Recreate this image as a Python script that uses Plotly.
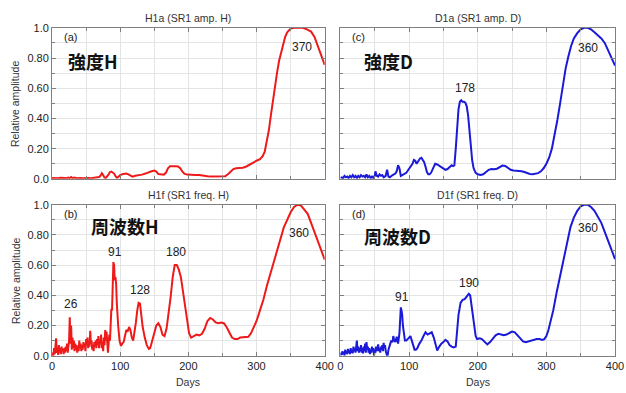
import plotly.graph_objects as go

# ---------------- data (day, relative amplitude) ----------------
h1a = [(0,0.005),(3,0.003),(6,0.006),(9,0.004),(12,0.007),(15,0.004),(18,0.006),(21,0.004),(24,0.009),(26,0.004),
       (28,0.012),(30,0.005),(33,0.008),(36,0.004),(39,0.007),(42,0.005),(45,0.004),(48,0.006),(51,0.004),(54,0.005),
       (57,0.004),(60,0.006),(63,0.005),(66,0.008),(69,0.012),(71,0.02),(73,0.038),(75,0.025),(77,0.008),(79,0.006),
       (81,0.015),(83,0.03),(85,0.045),(87,0.048),(89,0.042),(91,0.035),(93,0.02),(95,0.008),(97,0.012),(100,0.025),
       (103,0.03),(106,0.035),(109,0.036),(112,0.03),(115,0.02),(118,0.015),(122,0.02),(127,0.023),(132,0.028),(137,0.035),
       (142,0.045),(146,0.05),(150,0.055),(153,0.048),(156,0.032),(160,0.03),(164,0.028),(167,0.04),(170,0.07),(173,0.083),
       (177,0.085),(181,0.083),(185,0.082),(188,0.07),(191,0.05),(194,0.035),(198,0.028),(204,0.025),(210,0.026),(216,0.025),
       (222,0.024),(228,0.018),(234,0.016),(240,0.017),(246,0.018),(250,0.015),(254,0.018),(258,0.03),(262,0.05),(266,0.065),
       (270,0.07),(275,0.072),(280,0.074),(285,0.082),(290,0.095),(295,0.11),(300,0.12),(305,0.13),(309,0.15),(312,0.18),
       (315,0.25),(318,0.32),(321,0.42),(324,0.52),(327,0.6),(330,0.7),(333,0.78),(336,0.84),(339,0.9),(342,0.94),
       (345,0.97),(350,0.995),(355,1.0),(362,1.0),(368,1.0),(374,0.99),(380,0.975),(385,0.94),(390,0.88),(395,0.82),(400,0.755)]

d1a = [(0,0.005),(2,0.01),(4,0.005),(6,0.02),(8,0.01),(10,0.015),(12,0.005),(14,0.02),(16,0.01),(18,0.025),
       (20,0.01),(22,0.02),(24,0.005),(26,0.02),(28,0.01),(30,0.025),(32,0.015),(34,0.02),(36,0.01),(38,0.03),
       (40,0.01),(42,0.02),(44,0.005),(46,0.015),(48,0.005),(50,0.02),(51,0.05),(53,0.02),(55,0.015),(57,0.03),
       (59,0.02),(61,0.025),(63,0.01),(66,0.02),(68,0.06),(70,0.015),(72,0.01),(74,0.02),(76,0.025),(78,0.03),
       (80,0.035),(82,0.05),(84,0.09),(86,0.07),(88,0.02),(90,0.025),(93,0.03),(96,0.04),(99,0.06),(102,0.08),
       (105,0.1),(107,0.125),(109,0.12),(111,0.1),(113,0.115),(116,0.135),(118,0.14),(120,0.125),(122,0.11),(124,0.08),
       (126,0.045),(128,0.03),(130,0.03),(132,0.04),(135,0.07),(138,0.1),(141,0.095),(144,0.085),(147,0.075),(150,0.065),
       (153,0.06),(156,0.065),(159,0.08),(162,0.09),(164,0.085),(166,0.09),(168,0.2),(170,0.35),(172,0.46),(174,0.51),
       (176,0.52),(178,0.51),(180,0.51),(182,0.505),(184,0.48),(186,0.42),(188,0.32),(190,0.2),(192,0.12),(194,0.07),
       (197,0.04),(200,0.03),(204,0.025),(208,0.03),(212,0.045),(216,0.06),(220,0.065),(224,0.063),(228,0.067),(232,0.078),
       (236,0.088),(240,0.085),(244,0.07),(248,0.06),(252,0.055),(256,0.055),(260,0.055),(264,0.05),(268,0.045),(272,0.038),
       (276,0.032),(280,0.03),(284,0.032),(288,0.038),(292,0.05),(296,0.07),(300,0.1),(304,0.14),(308,0.2),(312,0.29),
       (316,0.39),(320,0.5),(324,0.62),(328,0.73),(332,0.81),(336,0.88),(340,0.93),(345,0.965),(350,0.99),(355,1.0),
       (360,1.0),(365,0.99),(370,0.97),(375,0.95),(380,0.93),(385,0.9),(390,0.85),(395,0.8),(400,0.75)]

h1f = [(0,0.0),(1,0.02),(2,0.0),(3,0.05),(4,0.01),(5,0.06),(6,0.115),(7,0.02),(8,0.04),(9,0.005),
       (10,0.07),(11,0.02),(12,0.05),(13,0.01),(14,0.06),(15,0.03),(16,0.045),(17,0.01),(18,0.05),(19,0.02),
       (20,0.06),(21,0.03),(22,0.08),(23,0.02),(24,0.05),(25,0.1),(26,0.255),(27,0.08),(28,0.2),(29,0.04),
       (30,0.12),(31,0.05),(32,0.1),(33,0.03),(34,0.08),(35,0.04),(36,0.07),(37,0.02),(38,0.06),(39,0.03),
       (40,0.1),(41,0.05),(42,0.08),(43,0.03),(44,0.07),(45,0.04),(46,0.09),(47,0.06),(48,0.08),(49,0.03),
       (50,0.11),(51,0.07),(52,0.12),(53,0.05),(54,0.09),(55,0.06),(56,0.165),(57,0.08),(58,0.1),(59,0.04),
       (60,0.07),(61,0.03),(62,0.09),(63,0.06),(64,0.1),(65,0.05),(66,0.11),(67,0.07),(68,0.13),(69,0.05),
       (70,0.1),(71,0.08),(72,0.14),(73,0.05),(74,0.09),(75,0.03),(76,0.12),(77,0.07),(78,0.17),(79,0.1),
       (80,0.16),(81,0.06),(82,0.02),(83,0.08),(84,0.14),(85,0.1),(86,0.27),(87,0.31),(88,0.3),(89,0.48),
       (90,0.62),(91,0.6),(92,0.5),(93,0.52),(94,0.48),(95,0.35),(96,0.25),(97,0.2),(99,0.1),(101,0.065),
       (103,0.08),(105,0.09),(107,0.13),(109,0.17),(111,0.16),(113,0.19),(115,0.17),(117,0.12),(119,0.1),(121,0.15),
       (123,0.22),(125,0.3),(127,0.35),(129,0.345),(131,0.27),(133,0.19),(136,0.12),(139,0.07),(142,0.045),(144,0.05),
       (147,0.1),(150,0.15),(153,0.2),(156,0.215),(159,0.19),(162,0.14),(165,0.13),(168,0.18),(171,0.27),(174,0.39),
       (177,0.52),(180,0.6),(183,0.6),(186,0.57),(189,0.52),(192,0.43),(195,0.33),(198,0.24),(201,0.15),(204,0.12),
       (208,0.13),(212,0.14),(216,0.135),(220,0.145),(224,0.18),(228,0.23),(232,0.25),(236,0.24),(240,0.22),(244,0.215),
       (248,0.22),(252,0.215),(256,0.19),(260,0.15),(264,0.12),(268,0.11),(272,0.11),(276,0.12),(282,0.125),(288,0.125),
       (292,0.15),(296,0.19),(300,0.23),(305,0.3),(310,0.37),(315,0.46),(320,0.54),(325,0.62),(330,0.7),(335,0.77),
       (340,0.85),(345,0.9),(350,0.95),(355,0.985),(360,1.0),(365,0.995),(370,0.965),(375,0.94),(380,0.88),(385,0.82),
       (390,0.77),(395,0.7),(400,0.636)]

d1f = [(0,0.0),(1,0.02),(2,0.005),(3,0.03),(4,0.01),(5,0.025),(6,0.0),(7,0.04),(8,0.015),(9,0.03),
       (10,0.01),(11,0.045),(12,0.02),(13,0.035),(14,0.01),(15,0.05),(16,0.02),(17,0.04),(18,0.015),(19,0.06),
       (20,0.03),(21,0.05),(22,0.02),(23,0.07),(24,0.1),(25,0.03),(26,0.06),(27,0.02),(28,0.05),(29,0.03),
       (30,0.07),(31,0.02),(32,0.05),(33,0.015),(34,0.06),(35,0.03),(36,0.08),(37,0.02),(38,0.09),(39,0.04),
       (40,0.06),(41,0.02),(42,0.05),(43,0.01),(44,0.04),(45,0.02),(46,0.06),(47,0.03),(48,0.05),(49,0.0),
       (50,0.04),(51,0.02),(52,0.06),(53,0.03),(54,0.07),(55,0.075),(56,0.03),(57,0.05),(58,0.02),(59,0.06),
       (60,0.04),(61,0.07),(62,0.03),(63,0.085),(64,0.05),(65,0.07),(66,0.03),(67,0.01),(68,0.0),(69,0.005),
       (70,0.04),(72,0.07),(74,0.1),(76,0.09),(77,0.13),(78,0.11),(80,0.09),(82,0.125),(84,0.08),(86,0.15),
       (87,0.25),(88,0.32),(89,0.3),(90,0.27),(91,0.2),(92,0.15),(94,0.1),(96,0.1),(98,0.11),(100,0.12),
       (102,0.13),(104,0.1),(106,0.07),(108,0.04),(110,0.04),(112,0.05),(115,0.08),(118,0.1),(121,0.13),(124,0.155),
       (127,0.14),(130,0.15),(133,0.155),(136,0.12),(139,0.06),(141,0.035),(144,0.06),(147,0.08),(150,0.09),(153,0.105),
       (156,0.095),(159,0.07),(162,0.06),(165,0.055),(168,0.06),(170,0.15),(172,0.27),(175,0.35),(178,0.37),(181,0.375),
       (184,0.39),(187,0.41),(189,0.4),(191,0.33),(193,0.25),(195,0.18),(197,0.13),(199,0.11),(203,0.115),(206,0.11),
       (210,0.09),(214,0.075),(218,0.09),(222,0.115),(226,0.135),(230,0.145),(234,0.14),(238,0.135),(242,0.14),(246,0.15),
       (250,0.16),(254,0.155),(258,0.135),(262,0.11),(266,0.095),(270,0.09),(274,0.095),(278,0.105),(282,0.11),(286,0.11),
       (290,0.11),(294,0.105),(297,0.11),(300,0.13),(303,0.17),(306,0.22),(310,0.3),(315,0.42),(320,0.53),(325,0.65),
       (330,0.76),(335,0.85),(340,0.915),(345,0.96),(350,0.99),(355,1.0),(360,1.0),(365,0.985),(370,0.96),(375,0.92),
       (380,0.88),(385,0.82),(390,0.76),(395,0.7),(400,0.64)]

panel_titles = ["H1a (SR1 amp. H)", "D1a (SR1 amp. D)", "H1f (SR1 freq. H)", "D1f (SR1 freq. D)"]
panel_letters = ["(a)", "(c)", "(b)", "(d)"]
panel_names = ["強度H", "強度D", "周波数H", "周波数D"]
# peak labels: (day, value, text) per panel
peak_labels = [
    [(367, 0.87, "370")],
    [(182, 0.60, "178"), (361, 0.865, "360")],
    [(28, 0.34, "26"), (93, 0.69, "91"), (129, 0.435, "128"), (182, 0.69, "180"), (362, 0.81, "360")],
    [(89, 0.39, "91"), (187, 0.48, "190"), (361, 0.846, "360")],
]
y_tickvals = [0, 0.2, 0.4, 0.6, 0.8, 1.0]
y_ticktext = ["0.0", "0.20", "0.40", "0.60", "0.80", "1.0"]
x_tickvals = [0, 100, 200, 300, 400]

RED = "#ee1a1a"
BLUE = "#1a1ad8"
series = [h1a, d1a, h1f, d1f]
colors = [RED, BLUE, RED, BLUE]

W, H = 626, 393
# pixel boxes of plot areas (left, right, top, bottom)
boxes = [(50, 328, 22.5, 178.3), (344, 624, 22.5, 178.3),
         (50, 328, 205, 360.7), (344, 624, 205, 360.7)]

fig = go.Figure()
FONT = "Liberation Sans, Arial, sans-serif"
CJK = "Noto Sans CJK JP, sans-serif"
GRID = "#e4e4e4"
FRAME = "#808080"

for i, (data, col) in enumerate(zip(series, colors)):
    n = "" if i == 0 else str(i + 1)
    fig.add_trace(go.Scatter(x=[p[0] for p in data], y=[p[1] for p in data],
                             mode="lines", line=dict(color=col, width=2),
                             xaxis="x" + n, yaxis="y" + n, showlegend=False))
    l, r, t, b = boxes[i]
    bottom = i >= 2
    left = i % 2 == 0
    fig.layout["xaxis" + n] = dict(
        domain=[l / W, r / W], anchor="y" + n, range=[0, 400],
        tickvals=x_tickvals, showticklabels=bottom,
        ticks="inside", ticklen=4, tickcolor=FRAME,
        showline=True, linecolor=FRAME, linewidth=1, mirror="ticks",
        showgrid=True, gridcolor=GRID, zeroline=False,
        minor=dict(dtick=50, tick0=0, showgrid=True, gridcolor=GRID, ticks="inside", ticklen=3, tickcolor=FRAME),
        tickfont=dict(family=FONT, size=11, color="#222"),
    )
    fig.layout["yaxis" + n] = dict(
        domain=[(H - b) / H, (H - t) / H], anchor="x" + n, range=[0, 1.0],
        tickvals=y_tickvals, ticktext=y_ticktext, showticklabels=left,
        ticks="inside", ticklen=4, tickcolor=FRAME,
        showline=True, linecolor=FRAME, linewidth=1, mirror="ticks",
        showgrid=True, gridcolor=GRID, zeroline=False,
        minor=dict(dtick=0.1, tick0=0, showgrid=True, gridcolor=GRID, ticks="inside", ticklen=3, tickcolor=FRAME),
        tickfont=dict(family=FONT, size=11, color="#222"),
    )
    xr, yr = "x" + n, "y" + n
    cx = (l + r) / 2 / W
    # panel title
    fig.add_annotation(text=panel_titles[i], xref="paper", yref="paper", x=cx, y=(H - t + 2) / H,
                       xanchor="center", yanchor="bottom", showarrow=False,
                       font=dict(family=FONT, size=10.5, color="#333"))
    # letter
    fig.add_annotation(text=panel_letters[i], xref=xr, yref=yr, x=15 if left else 14, y=0.94,
                       xanchor="left", yanchor="middle", showarrow=False,
                       font=dict(family=FONT, size=11, color="#222"))
    # big name
    nx = [21, 31, 54, 31][i]
    ny = [0.78, 0.78, 0.86, 0.79][i]
    fig.add_annotation(text="<b>" + panel_names[i] + "</b>", xref=xr, yref=yr, x=nx, y=ny,
                       xanchor="left", yanchor="middle", showarrow=False,
                       font=dict(family=CJK, size=18, color="#111"))
    for (dx, dy, txt) in peak_labels[i]:
        fig.add_annotation(text=txt, xref=xr, yref=yr, x=dx, y=dy, xanchor="center", yanchor="middle",
                           showarrow=False, font=dict(family=FONT, size=12, color="#222"))
    if bottom:
        fig.add_annotation(text="Days", xref="paper", yref="paper", x=cx, y=(H - 388) / H,
                           xanchor="center", yanchor="middle", showarrow=False,
                           font=dict(family=FONT, size=10.5, color="#333"))
    if left:
        fig.add_annotation(text="Relative amplitude", xref="paper", yref="paper", x=13 / W,
                           y=(H - (t + b) / 2) / H, xanchor="center", yanchor="middle",
                           textangle=-90, showarrow=False,
                           font=dict(family=FONT, size=10.5, color="#333"))

fig.update_layout(width=W, height=H, margin=dict(l=0, r=0, t=0, b=0),
                  paper_bgcolor="white", plot_bgcolor="white")
fig.write_html("out.html")
